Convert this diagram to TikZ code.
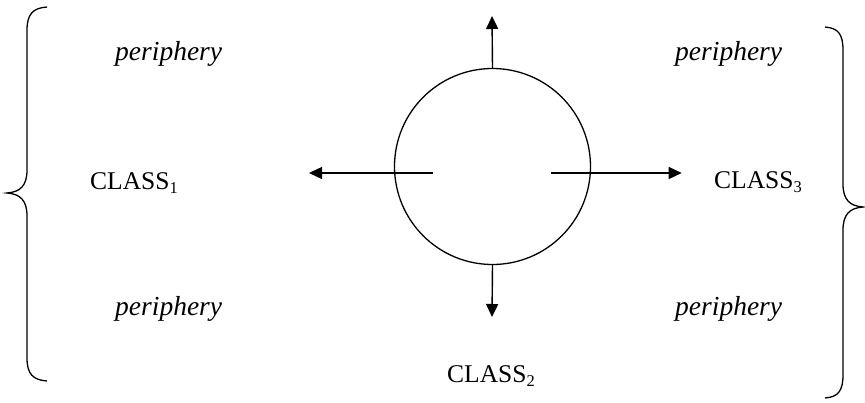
\documentclass[tikz,border=0pt]{standalone}
\usepackage{fontspec}
\setmainfont{Liberation Serif}
\usetikzlibrary{arrows.meta}
\tikzset{
  lbl/.style={anchor=base west, inner sep=0pt, font=\fontsize{25.5}{29}\selectfont},
  peri/.style={anchor=base west, inner sep=0pt, font=\fontsize{27.5}{31}\selectfont\itshape},
  arr/.style={line width=1.4pt, -{Triangle[length=13pt,width=12pt]}},
  brace/.style={line width=1.3pt}
}
\newcommand{\sbs}[1]{\raisebox{-4pt}{\fontsize{16.5}{19}\selectfont #1}}
\begin{document}
\begin{tikzpicture}[x=1pt,y=-1pt]
\useasboundingbox (0,0) rectangle (865,402);
% circle
\node[draw, circle, line width=1.3pt, minimum size=196pt, inner sep=0pt] (c) at (492.5,166.5) {};
% arrow end points
\coordinate (uptip) at (492,16);
\coordinate (dntip) at (492,317);
\coordinate (lstart) at (432.7,173);
\coordinate (ltip) at (309,173);
\coordinate (rstart) at (550.7,173);
\coordinate (rtip) at (681.7,173);
\draw[arr] (c.north) -- (uptip);
\draw[arr] (c.south) -- (dntip);
\draw[arr] (lstart) -- (ltip);
\draw[arr] (rstart) -- (rtip);
% labels
\node[peri] (p1) at (115,60) {periphery};
\node[peri] (p2) at (675,60) {periphery};
\node[peri] (p3) at (115,315) {periphery};
\node[peri] (p4) at (675,315) {periphery};
\node[lbl] (c1) at (90,189) {CLASS\sbs{1}};
\node[lbl] (c3) at (714,188) {CLASS\sbs{3}};
\node[lbl] (c2) at (447,382) {CLASS\sbs{2}};
% left brace
\draw[brace] (47,7) .. controls (33,8) and (27,14) .. (27,30)
  -- (27,170) .. controls (27,186) and (20,192) .. (7,193)
  .. controls (20,194) and (27,200) .. (27,216)
  -- (27,358) .. controls (27,374) and (33,380) .. (47,381);
% right brace
\draw[brace] (825,27) .. controls (838,28) and (843,34) .. (843,50)
  -- (843,184) .. controls (843,200) and (850,206) .. (863,207)
  .. controls (850,208) and (843,214) .. (843,230)
  -- (843,375) .. controls (843,391) and (838,397) .. (825,398);
\end{tikzpicture}
\end{document}
